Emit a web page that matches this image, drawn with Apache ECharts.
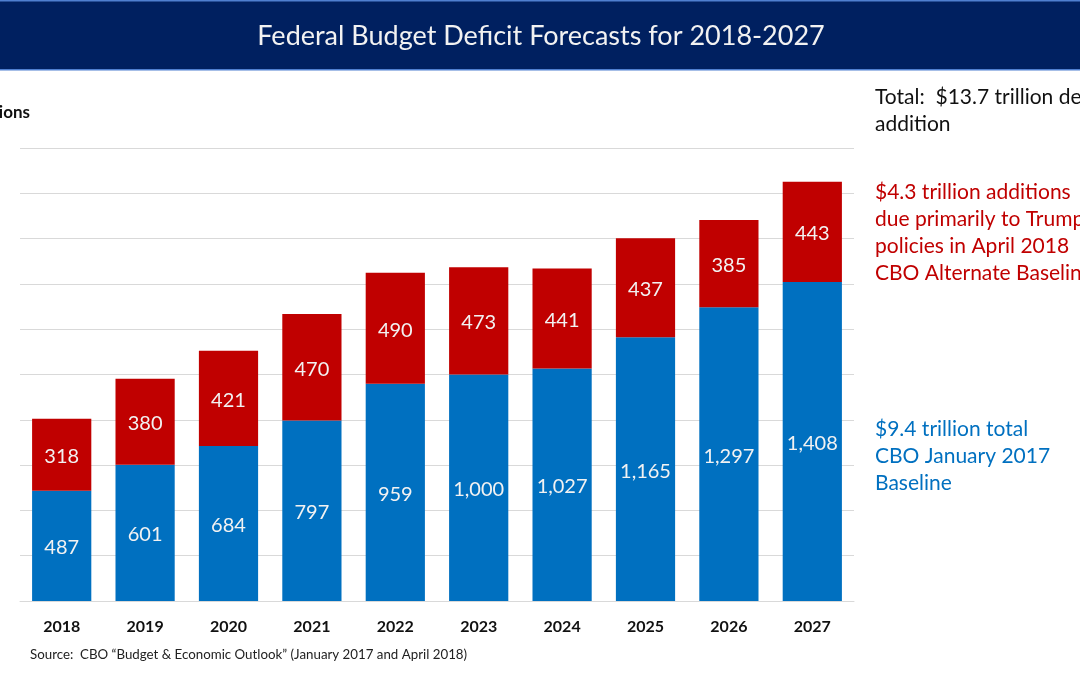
<!DOCTYPE html>
<html><head><meta charset="utf-8">
<script src="https://cdn.jsdelivr.net/npm/echarts@6/dist/echarts.min.js"></script>
<style>html,body{margin:0;padding:0;background:#fff}#c{width:1080px;height:675px}</style>
</head><body><div id="c"></div>
<script>
const categories = ['2018','2019','2020','2021','2022','2023','2024','2025','2026','2027'];
const baseline2017 = [487, 601, 684, 797, 959, 1000, 1027, 1165, 1297, 1408];
const additions2018 = [318, 380, 421, 470, 490, 473, 441, 437, 385, 443];
const yMin = 0, yMax = 2000, yStep = 200;

const FONT = 'Lato, "Open Sans", sans-serif';
const chart = echarts.init(document.getElementById('c'), null, {renderer:'canvas'});
const fmt = p => Number(p.value).toLocaleString('en-US');
chart.setOption({
  animation:false,
  textStyle:{fontFamily:FONT},
  grid:{left:20, right:226, top:148, bottom:74, containLabel:false},
  xAxis:{type:'category', data:categories,
    axisLine:{lineStyle:{color:'#d9d9d9', width:1}}, axisTick:{show:false},
    axisLabel:{color:'#111', fontWeight:'bold', fontSize:16, fontFamily:FONT, margin:18}},
  yAxis:{type:'value', min:yMin, max:yMax, interval:yStep,
    axisLabel:{show:false}, axisLine:{show:false}, axisTick:{show:false},
    splitLine:{lineStyle:{color:'#d9d9d9', width:1}}},
  series:[
    {type:'bar', stack:'t', data:baseline2017, barCategoryGap:'29%',
     itemStyle:{color:'#0070C0'},
     label:{show:true, position:'inside', color:'#f2f2f2', fontSize:20, fontFamily:FONT, formatter:fmt, offset:[0,2]}},
    {type:'bar', stack:'t', data:additions2018, barCategoryGap:'29%',
     itemStyle:{color:'#C00000'},
     label:{show:true, position:'inside', color:'#f2f2f2', fontSize:20, fontFamily:FONT, formatter:fmt, offset:[0,2]}}
  ],
  graphic:[
    {type:'rect', shape:{x:0,y:0,width:1080,height:70}, style:{fill:'#002060'}, z:0},
    {type:'rect', shape:{x:0,y:0,width:1080,height:1.5}, style:{fill:'#4f7fd0'}, z:1},
    {type:'rect', shape:{x:0,y:69,width:1080,height:1.5}, style:{fill:'#4f7fd0'}, z:1},
    {type:'text', x:541, y:36, style:{text:'Federal Budget Deficit Forecasts for 2018-2027', fill:'#f2f2f2', font:'27px '+FONT, textAlign:'center', textVerticalAlign:'middle'}, z:2},
    {type:'text', x:30, y:113, style:{text:'$ Billions', fill:'#111', font:'bold 17px '+FONT, textAlign:'right', textVerticalAlign:'middle'}},
    {type:'text', x:875, y:84, style:{text:'Total:  $13.7 trillion debt\naddition', fill:'#111', font:'21px '+FONT, lineHeight:27}},
    {type:'text', x:875, y:179, style:{text:'$4.3 trillion additions\ndue primarily to Trump\npolicies in April 2018\nCBO Alternate Baseline', fill:'#C00000', font:'21px '+FONT, lineHeight:27}},
    {type:'text', x:875, y:416, style:{text:'$9.4 trillion total\nCBO January 2017\nBaseline', fill:'#0070C0', font:'21px '+FONT, lineHeight:27}},
    {type:'text', x:30, y:655, style:{text:'Source:  CBO \u201cBudget & Economic Outlook\u201d (January 2017 and April 2018)', fill:'#222', font:'13.3px '+FONT, textVerticalAlign:'middle'}}
  ]
});
</script></body></html>
